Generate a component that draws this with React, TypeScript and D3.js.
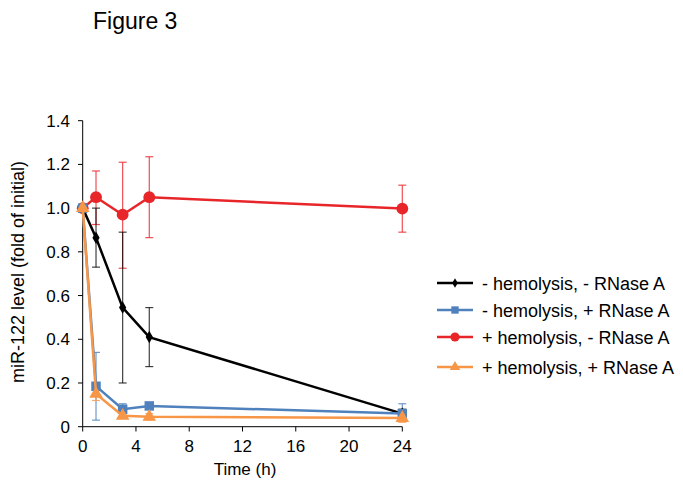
import React from "react";
import * as d3 from "d3";

const times = [0, 1, 3, 5, 24];
const seriesNames = [
  "- hemolysis, - RNase  A",
  "- hemolysis, + RNase A",
  "+ hemolysis, - RNase A",
  "+ hemolysis, + RNase A",
];
const blackVals = [1.0, 0.865, 0.545, 0.41, 0.06];
const blackLo = [1.0, 0.73, 0.2, 0.275, 0.04];
const blackHi = [1.0, 1.0, 0.89, 0.545, 0.08];
const blueVals = [1.0, 0.185, 0.08, 0.095, 0.06];
const blueLo = [1.0, 0.03, 0.06, 0.085, 0.03];
const blueHi = [1.0, 0.34, 0.105, 0.105, 0.105];
const redVals = [1.0, 1.05, 0.97, 1.05, 0.998];
const redLo = [1.0, 0.925, 0.725, 0.865, 0.89];
const redHi = [1.0, 1.17, 1.21, 1.235, 1.105];
const orangeVals = [1.0, 0.15, 0.05, 0.045, 0.04];
const orangeLo = [1.0, 0.12, 0.04, 0.03, 0.02];
const orangeHi = [1.0, 0.17, 0.06, 0.06, 0.05];
const xTicks = [0, 4, 8, 12, 16, 20, 24];
const yTicks = [0, 0.2, 0.4, 0.6, 0.8, 1.0, 1.2, 1.4];

const colors = ["#000000", "#4f81bd", "#e8262a", "#f79646"];
const markers = ["diamond", "square", "circle", "triangle"];

export default function App() {
  const x = d3.scaleLinear().domain([0, 24]).range([82.7, 402.3]);
  const y = d3.scaleLinear().domain([0, 1.4]).range([426.7, 120.7]);
  const font = "Liberation Sans, Arial, sans-serif";

  const series = [
    { vals: blackVals, lo: blackLo, hi: blackHi },
    { vals: blueVals, lo: blueLo, hi: blueHi },
    { vals: redVals, lo: redLo, hi: redHi },
    { vals: orangeVals, lo: orangeLo, hi: orangeHi },
  ];
  const line = d3
    .line<number>()
    .x((_, i) => x(times[i]))
    .y((v) => y(v));

  const sym = (m: string, size: number) => {
    const t =
      m === "diamond"
        ? d3.symbolDiamond
        : m === "square"
        ? d3.symbolSquare
        : m === "circle"
        ? d3.symbolCircle
        : d3.symbolTriangle;
    return d3.symbol().type(t).size(size)()!;
  };
  const sizes = [45, 90, 110, 80];

  const order = [2, 0, 1, 3];
  const legendY = [283, 310, 337, 367];

  return (
    <svg width={683} height={502} style={{ position: "absolute", left: 0, top: 0 }}>
      <rect width={683} height={502} fill="#fff" />
      <text x={93} y={29} fontFamily={font} fontSize={23}>
        Figure 3
      </text>
      {/* axes */}
      <line x1={82.7} x2={82.7} y1={120.7} y2={426.7} stroke="#000" strokeWidth={1} />
      <line x1={82.7} x2={402.3} y1={426.7} y2={426.7} stroke="#000" strokeWidth={1} />
      {yTicks.map((t) => (
        <g key={"y" + t}>
          <line x1={78} x2={82.7} y1={y(t)} y2={y(t)} stroke="#000" />
          <text
            x={70}
            y={y(t) + 6}
            textAnchor="end"
            fontFamily={font}
            fontSize={17}
          >
            {t === 0 ? "0" : t.toFixed(1)}
          </text>
        </g>
      ))}
      {xTicks.map((t) => (
        <g key={"x" + t}>
          <line x1={x(t)} x2={x(t)} y1={426.7} y2={431.5} stroke="#000" />
          <text x={x(t)} y={452} textAnchor="middle" fontFamily={font} fontSize={17}>
            {t}
          </text>
        </g>
      ))}
      <text x={245} y={475} textAnchor="middle" fontFamily={font} fontSize={17}>
        Time (h)
      </text>
      <text
        transform={`translate(24,272) rotate(-90)`}
        textAnchor="middle"
        fontFamily={font}
        fontSize={18}
      >
        miR-122 level (fold of initial)
      </text>
      {/* error bars */}
      {order.map((si) => {
        const s = series[si];
        return (
          <g key={"e" + si} stroke={colors[si]} strokeOpacity={si === 0 ? 0.75 : 0.8} strokeWidth={1.2}>
            {times.map((t, i) =>
              i === 0 ? null : (
                <g key={i}>
                  <line x1={x(t)} x2={x(t)} y1={y(s.lo[i])} y2={y(s.hi[i])} />
                  <line x1={x(t) - 4} x2={x(t) + 4} y1={y(s.lo[i])} y2={y(s.lo[i])} />
                  <line x1={x(t) - 4} x2={x(t) + 4} y1={y(s.hi[i])} y2={y(s.hi[i])} />
                </g>
              )
            )}
          </g>
        );
      })}
      {/* lines and markers */}
      {order.map((si) => {
        const s = series[si];
        return (
          <g key={"l" + si}>
            <path d={line(s.vals)!} fill="none" stroke={colors[si]} strokeWidth={2.5} />
            {times.map((t, i) => (
              <path
                key={i}
                d={sym(markers[si], sizes[si])}
                transform={`translate(${x(t)},${y(s.vals[i])})`}
                fill={colors[si]}
              />
            ))}
          </g>
        );
      })}
      {/* legend */}
      {seriesNames.map((n, i) => (
        <g key={"lg" + i}>
          <line x1={437} x2={473} y1={legendY[i]} y2={legendY[i]} stroke={colors[i]} strokeWidth={2.5} />
          <path
            d={sym(markers[i], sizes[i] * 0.6)}
            transform={`translate(455,${legendY[i]})`}
            fill={colors[i]}
          />
          <text x={482} y={legendY[i] + 6.5} fontFamily={font} fontSize={18}>
            {n}
          </text>
        </g>
      ))}
    </svg>
  );
}
